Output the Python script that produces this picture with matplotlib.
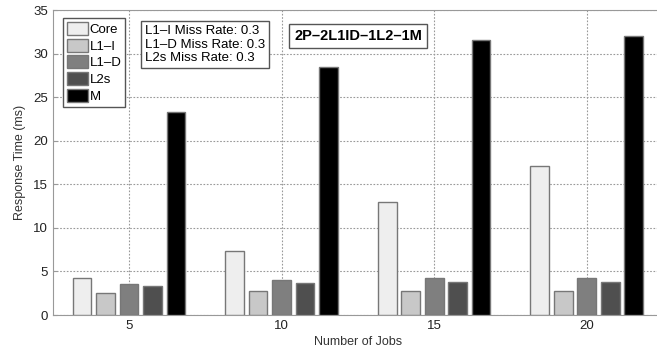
import numpy as np
import matplotlib
matplotlib.use('Agg')
import matplotlib.pyplot as plt

plt.rcParams['font.family'] = ['Liberation Sans', 'DejaVu Sans']

jobs = [5, 10, 15, 20]
series = ['Core', 'L1\u2013I', 'L1\u2013D', 'L2s', 'M']
core = [4.3, 7.4, 13.0, 17.1]
l1i = [2.5, 2.7, 2.8, 2.8]
l1d = [3.6, 4.0, 4.2, 4.2]
l2s = [3.3, 3.7, 3.75, 3.75]
mem = [23.3, 28.5, 31.6, 32.0]
colors = ['#eeeeee', '#c8c8c8', '#7f7f7f', '#4f4f4f', '#000000']

fig = plt.figure(figsize=(6.57, 3.5), dpi=100)
ax = fig.add_axes([0.0802, 0.1, 0.929, 0.871])

x = np.array(jobs, dtype=float)
slot = 5 * 0.1538
width = slot * 0.8
vals = [core, l1i, l1d, l2s, mem]
for i, (name, v) in enumerate(zip(series, vals)):
    ax.bar(x + (i - 2) * slot, v, width, color=colors[i],
           edgecolor='#777777', linewidth=1.0, label=name, zorder=3)

ax.set_xlim(2.5, 22.5)
ax.set_ylim(0, 35)
ax.set_xticks(jobs)
ax.set_yticks(range(0, 36, 5))
ax.grid(True, linestyle=(0, (1.5, 1.5)), color='#999999', linewidth=0.8, zorder=0)
ax.set_axisbelow(True)
for s in ax.spines.values():
    s.set_color('#999999')
ax.tick_params(direction='in', length=3, color='#999999', labelsize=9.5, labelcolor='#222222')
ax.set_xlabel('Number of Jobs', fontsize=9, color='#333333', labelpad=3)
ax.set_ylabel('Response Time (ms)', fontsize=9, color='#333333', labelpad=5)

leg = ax.legend(loc='upper left', bbox_to_anchor=(0.017, 0.974), borderaxespad=0,
                fancybox=False, fontsize=9.5, handlelength=1.6, handleheight=1.15,
                handletextpad=0.1, labelspacing=0.2, borderpad=0.3, framealpha=1)
leg.get_frame().set_edgecolor('#555555')
leg.get_frame().set_linewidth(1.0)

ax.text(0.151, 0.952, 'L1\u2013I Miss Rate: 0.3\nL1\u2013D Miss Rate: 0.3\nL2s Miss Rate: 0.3',
        transform=ax.transAxes, fontsize=9.5, va='top', ha='left', linespacing=1.2,
        bbox=dict(boxstyle='square,pad=0.3', facecolor='white', edgecolor='#555555', linewidth=1.0),
        zorder=5)
ax.text(0.396, 0.937, '2P\u20132L1ID\u20131L2\u20131M', transform=ax.transAxes,
        fontsize=10.5, fontweight='bold', va='top', ha='left',
        bbox=dict(boxstyle='square,pad=0.35', facecolor='white', edgecolor='#555555', linewidth=1.0),
        zorder=5)

fig.savefig('out.png', dpi=100)
